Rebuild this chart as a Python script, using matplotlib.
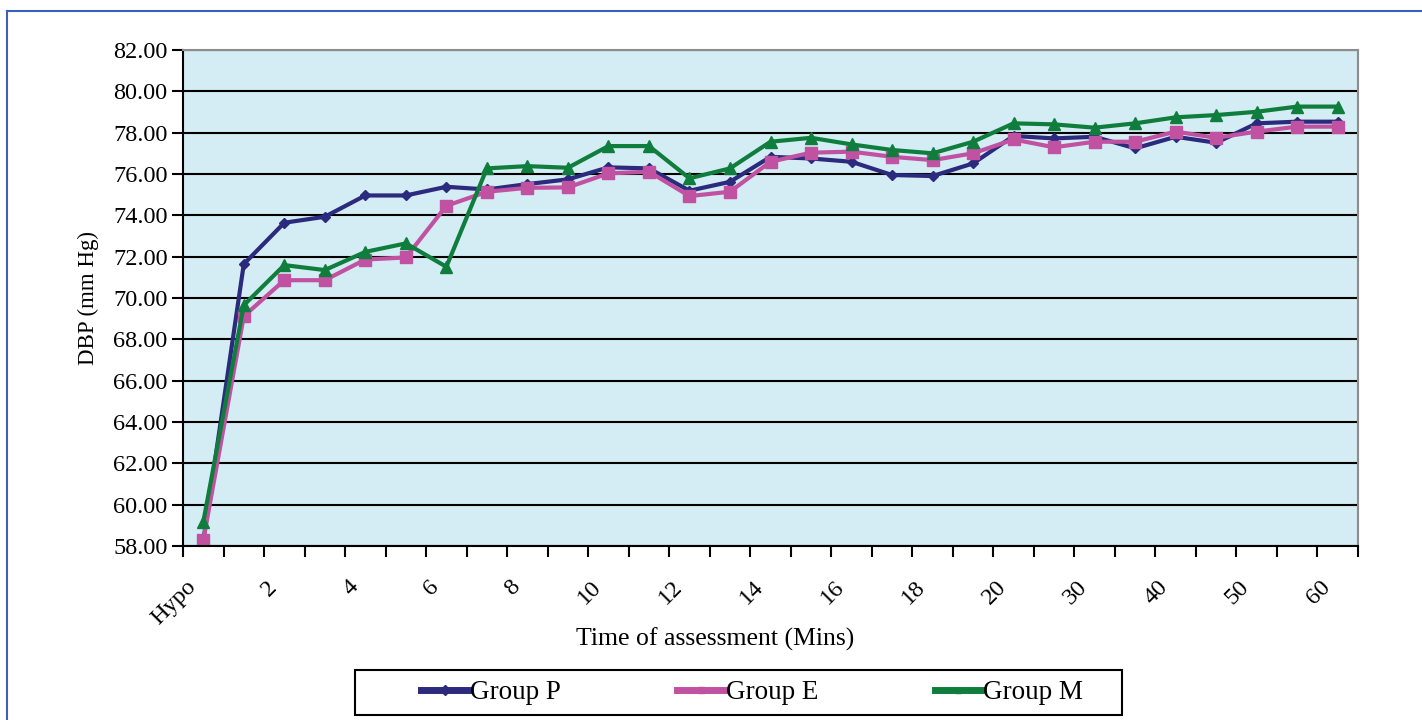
import numpy as np
import matplotlib.pyplot as plt
from matplotlib.lines import Line2D
from matplotlib.patches import Rectangle
from matplotlib.transforms import ScaledTranslation

times = ["Hypo"] + [str(i) for i in range(1, 21)] + ["25", "30", "35", "40", "45", "50", "55", "60"]

group_p = [58.25, 71.64, 73.64, 73.93, 74.96, 74.96, 75.38, 75.25, 75.51, 75.74,
           76.32, 76.27, 75.19, 75.62, 76.83, 76.75, 76.59, 75.95, 75.90, 76.51,
           77.84, 77.72, 77.80, 77.24, 77.80, 77.51, 78.45, 78.53, 78.53]
group_e = [58.27, 69.12, 70.86, 70.86, 71.86, 71.96, 74.46, 75.14, 75.33, 75.35,
           76.03, 76.11, 74.93, 75.14, 76.59, 77.03, 77.08, 76.83, 76.67, 77.00,
           77.67, 77.29, 77.56, 77.56, 78.05, 77.75, 78.05, 78.29, 78.29]
group_m = [59.16, 69.65, 71.59, 71.35, 72.23, 72.64, 71.51, 76.27, 76.38, 76.30,
           77.35, 77.35, 75.79, 76.27, 77.56, 77.75, 77.43, 77.16, 77.00, 77.56,
           78.45, 78.40, 78.24, 78.45, 78.74, 78.85, 79.01, 79.26, 79.26]

plt.rcParams['font.family'] = ['Liberation Serif', 'DejaVu Serif']

fig = plt.figure(figsize=(14.22, 7.2), dpi=100)
ax = fig.add_axes([0.1287, 0.2417, 0.8263, 0.6889])
ax.set_facecolor('#d4ecf3')

x = np.arange(len(times))
ax.plot(x, group_p, color='#2b2a7c', lw=3, marker='D', ms=5, label='Group P')
ax.plot(x, group_e, color='#c152a2', lw=3, marker='s', ms=8, label='Group E')
ax.plot(x, group_m, color='#0f7e3d', lw=3, marker='^', ms=8, label='Group M')

ax.set_xlim(-0.5, len(times) - 0.5)
ax.set_ylim(58, 82)
ax.set_yticks(np.arange(58, 82.1, 2))
ax.set_yticklabels([f"{v:.2f}" for v in np.arange(58, 82.1, 2)], fontsize=17.5)
ax.yaxis.grid(True, color='black', lw=1.5)
ax.set_axisbelow(True)

# ticks between categories, labels on every other category
ax.set_xticks(np.arange(-0.5, len(times)), labels=[])
ax.set_xticks(x[::2], labels=times[::2], minor=True, rotation=45, ha='right',
              va='top', rotation_mode='anchor', fontsize=17.5)
ax.tick_params(axis='x', which='major', length=8, width=1.5, direction='out')
ax.tick_params(axis='x', which='minor', length=0, pad=22)
ax.tick_params(axis='y', length=8, width=1.5, direction='out', pad=3)
shift = ScaledTranslation(-0.18, 0, fig.dpi_scale_trans)
for lab in ax.get_xticklabels(minor=True):
    lab.set_transform(lab.get_transform() + shift)

for s in ['left', 'bottom']:
    ax.spines[s].set_color('black')
    ax.spines[s].set_linewidth(1.5)
for s in ['top', 'right']:
    ax.spines[s].set_color('#8c8c8c')
    ax.spines[s].set_linewidth(1.5)

ax.set_xlabel("Time of assessment (Mins)", fontsize=18.5)
ax.xaxis.set_label_coords(0.453, -0.165)
ax.set_ylabel("DBP (mm Hg)", fontsize=16.5, labelpad=10)

leg = fig.legend(loc='center', bbox_to_anchor=(0.529, 0.038), ncol=3,
                 frameon=False, fontsize=19.5, handlelength=1.75,
                 handletextpad=0.05, columnspacing=4.3, borderaxespad=0)
for h in leg.legend_handles:
    h.set_linewidth(5)
    h.set_markersize(5)
fig.add_artist(Rectangle((0.2497, 0.007), 0.5394, 0.0625, transform=fig.transFigure,
                         fill=False, edgecolor='black', lw=1.5))

# thin blue page frame
fig.add_artist(Line2D([0.005, 0.005], [0, 0.985], color='#3a5fbf', lw=1.5))
fig.add_artist(Line2D([0.005, 1], [0.985, 0.985], color='#3a5fbf', lw=1.5))

plt.savefig('out.png', dpi=100)
